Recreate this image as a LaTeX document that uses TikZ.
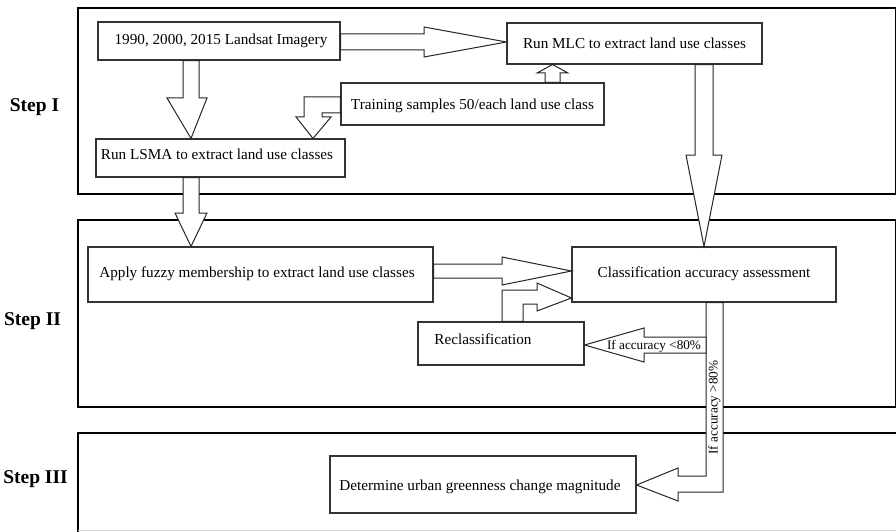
\documentclass[tikz,border=0pt]{standalone}
\usepackage{fontspec}
\setmainfont{Liberation Serif}
\begin{document}
\begin{tikzpicture}[x=1pt,y=-1pt,
  stepframe/.style={draw=black,line width=2.8pt},
  box/.style={draw=black!80,line width=1.1pt,fill=white,inner sep=0pt,anchor=base,font=\fontsize{15.2}{17}\selectfont},
  barrow/.style={draw=black!85,line width=1pt,fill=white,line join=miter},
  steplabel/.style={font=\fontsize{19.5}{22}\selectfont\bfseries,inner sep=0pt,anchor=base},
  smalltext/.style={font=\fontsize{13.2}{14}\selectfont,inner sep=0pt}]
\useasboundingbox (0,0) rectangle (896,532);
\fill[white] (0,0) rectangle (896,532);
% step frames
\draw[stepframe] (78,8) rectangle (896,194);
\draw[stepframe] (78,220) rectangle (896,407);
\draw[stepframe] (897,433) -- (78,433) -- (78,533);
\draw[black!15,line width=0.8pt] (78,530) -- (896,530);
% step labels
\node[steplabel] (s1) at (34.5,112) {Step I};
\node[steplabel] (s2) at (32.5,325) {Step II};
\node[steplabel] (s3) at (35.5,483) {Step III};
% boxes
\node[box,minimum width=242pt,text height=23pt,text depth=15pt] (A) at (219,45) {\hspace*{4pt}1990, 2000, 2015 Landsat Imagery};
\node[box,minimum width=255pt,text height=26pt,text depth=15pt] (B) at (634.5,49) {Run MLC to extract land use classes};
\node[box,minimum width=263pt,text height=27pt,text depth=15pt] (C) at (472.5,110) {Training samples 50/each land use class};
\node[box,minimum width=249pt,text height=20pt,text depth=18pt] (D) at (220.5,159) {\hspace*{-7pt}Run LSMA to extract land use classes};
\node[box,minimum width=345pt,text height=30pt,text depth=25pt] (E) at (260.5,277) {\hspace*{-7pt}Apply fuzzy membership to extract land use classes};
\node[box,minimum width=264pt,text height=30pt,text depth=25pt] (F) at (704,277) {Classification accuracy assessment};
\node[box,minimum width=166pt,text height=22pt,text depth=21pt] (G) at (501,344) {\hspace*{-36pt}Reclassification};
\node[box,minimum width=306pt,text height=34pt,text depth=23pt] (H) at (483,490) {\hspace*{-6pt}Determine urban greenness change magnitude};
% block arrows
\draw[barrow] (A.east |- 0,34) -- (424,34) -- (424,27) -- (B.west |- 0,42) -- (424,57) -- (424,50) -- (A.east |- 0,50) -- cycle;
\draw[barrow] (183,0 |- A.south) -- (183,98) -- (167,98) -- (191,0 |- D.north) -- (207,98) -- (199,98) -- (199,0 |- A.south) -- cycle;
\draw[barrow] (C.west |- 0,97) -- (304,97) -- (304,117) -- (296,117) -- (313,0 |- D.north) -- (331,117) -- (322,117) -- (322,113) -- (C.west |- 0,113) -- cycle;
\draw[barrow] (545,0 |- C.north) -- (545,73) -- (537,73) -- (552.5,0 |- B.south) -- (568,73) -- (560,73) -- (560,0 |- C.north) -- cycle;
\draw[barrow] (695,0 |- B.south) -- (695,155) -- (686,155) -- (704,0 |- F.north) -- (722,155) -- (713,155) -- (713,0 |- B.south) -- cycle;
\draw[barrow] (183,0 |- D.south) -- (183,213) -- (175,213) -- (191,0 |- E.north) -- (207,213) -- (199,213) -- (199,0 |- D.south) -- cycle;
\draw[barrow] (E.east |- 0,264) -- (502,264) -- (502,257) -- (F.west |- 0,271) -- (502,285) -- (502,278) -- (E.east |- 0,278) -- cycle;
\draw[barrow] (502,0 |- G.north) -- (502,290) -- (537,290) -- (537,283) -- (F.west |- 0,298) -- (537,311) -- (537,304) -- (523,304) -- (523,0 |- G.north) -- cycle;
\draw[barrow] (706,0 |- F.south) -- (706,476) -- (678,476) -- (678,468) -- (H.east |- 0,485) -- (678,501) -- (678,492) -- (723,492) -- (723,0 |- F.south) -- cycle;
\coordinate (j1) at (706,337);
\coordinate (j2) at (706,353);
\draw[barrow] (j1) -- (644,337) -- (644,328) -- (G.east |- 0,345) -- (644,362) -- (644,353) -- (j2) -- cycle;
% arrow labels
\node[smalltext,anchor=base] (t1) at (654,349.5) {If accuracy <80\%};
\node[smalltext,rotate=90] (t2) at (714.5,407.5) {If accuracy >80\%};
\end{tikzpicture}
\end{document}
